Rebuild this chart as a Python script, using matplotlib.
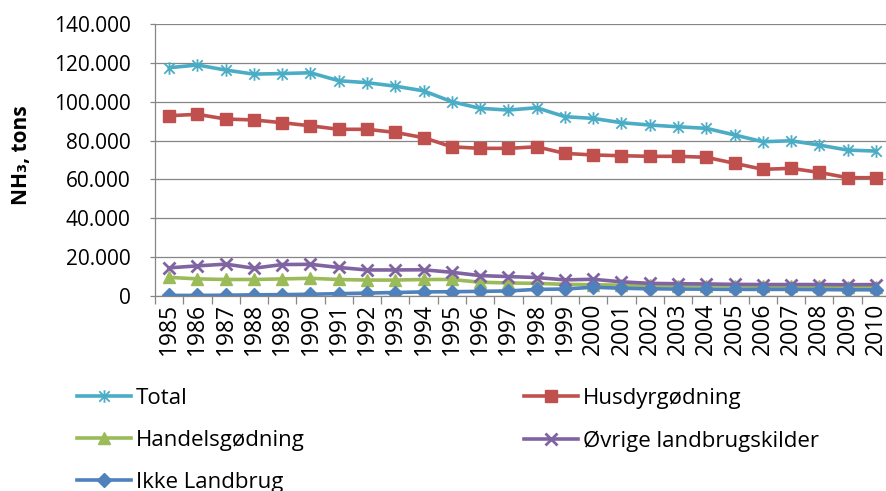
import matplotlib
matplotlib.use("Agg")
import matplotlib.pyplot as plt
from matplotlib.path import Path
from matplotlib.ticker import FixedLocator, FuncFormatter
import numpy as np

plt.rcParams["font.family"] = ["Open Sans", "DejaVu Sans"]

# NH3 emissions by source, tons per year
years = list(range(1985, 2011))
total = [117500, 118900, 116300, 114200, 114500, 114900, 110800, 109800, 108000, 105600,
         100000, 96600, 95700, 96900, 92300, 91400, 89200, 88000, 87100, 86300,
         82900, 79400, 79900, 77700, 75100, 74600]
husdyr = [92800, 93500, 91100, 90600, 89200, 87600, 85800, 85800, 84200, 81500,
          76800, 76000, 76000, 76800, 73400, 72600, 72200, 71900, 71900, 71400,
          68300, 65200, 65700, 63600, 60900, 60900]
handels = [9600, 8800, 8500, 8500, 8800, 9100, 8500, 8200, 8200, 8500,
           8500, 7100, 6700, 6500, 6000, 5800, 5600, 5500, 5400, 5300,
           5200, 5000, 5000, 4900, 4800, 4800]
ovrige = [14500, 15500, 16400, 14300, 16200, 16300, 14700, 13400, 13400, 13500,
          12200, 10500, 10000, 9500, 8300, 8600, 7300, 6500, 6300, 6200,
          6000, 5900, 5900, 5900, 5800, 5900]
ikke = [300, 300, 400, 600, 700, 900, 1200, 1500, 1800, 2100,
        2200, 2400, 2600, 3400, 3600, 4500, 4000, 3700, 3600, 3500,
        3400, 3400, 3400, 3300, 3200, 3200]

labels = ["Total", "Husdyrgødning", "Handelsgødning", "Øvrige landbrugskilder", "Ikke Landbrug"]
colors = ["#4BACC6", "#C0504D", "#9BBB59", "#8064A2", "#4F81BD"]

# Excel-style star: an x with a vertical bar through it
star = Path([(-1, -1), (1, 1), (-1, 1), (1, -1), (0, -1.2), (0, 1.2)],
            [Path.MOVETO, Path.LINETO, Path.MOVETO, Path.LINETO, Path.MOVETO, Path.LINETO])

fig = plt.figure(figsize=(8.87, 4.91), dpi=100)
ax = fig.add_axes([155 / 887, 1 - 296 / 491, 735 / 887, 272 / 491])

x = np.arange(len(years))
series = [total, husdyr, handels, ovrige, ikke]
styles = [
    dict(marker=star, markersize=9, markeredgewidth=1.3),
    dict(marker="s", markersize=8.5),
    dict(marker="^", markersize=8.5),
    dict(marker="x", markersize=8, markeredgewidth=2),
    dict(marker="D", markersize=7.5),
]
handles = []
for vals, lab, col, st in zip(series, labels, colors, styles):
    h, = ax.plot(x, vals, color=col, lw=2.6, label=lab, markerfacecolor=col,
                 markeredgecolor=col, **st)
    handles.append(h)

ax.set_xlim(-0.5, len(years) - 0.5)
ax.set_ylim(0, 140000)
ax.set_yticks(np.arange(0, 140001, 20000))
ax.yaxis.set_major_formatter(FuncFormatter(lambda v, p: f"{v:,.0f}".replace(",", ".")))
ax.grid(axis="y", color="#868686", lw=0.9)
ax.set_axisbelow(True)

ax.set_xticks(x)
ax.set_xticklabels([str(y) for y in years], rotation=90)
ax.xaxis.set_minor_locator(FixedLocator(np.arange(-0.5, len(years), 1.0)))
ax.tick_params(axis="x", which="major", length=0, pad=5, labelsize=16.5)
ax.tick_params(axis="x", which="minor", length=5.5, color="#868686", width=0.9)
ax.tick_params(axis="y", length=3.6, color="#868686", width=0.9, pad=14, labelsize=15)

for s in ["top", "right"]:
    ax.spines[s].set_visible(False)
for s in ["left", "bottom"]:
    ax.spines[s].set_color("#868686")
    ax.spines[s].set_linewidth(0.9)

fig.text(22 / 887, 1 - 155 / 491, "NH₃, tons", rotation=90, ha="center", va="center",
         fontsize=15, fontweight="bold")

order = [0, 2, 4, 1, 3]
fig.legend([handles[i] for i in order], [labels[i] for i in order],
           loc="upper left", bbox_to_anchor=(77 / 887, 1 - 388 / 491), ncol=2,
           frameon=False, fontsize=16, handlelength=2.45, handletextpad=0.2,
           borderpad=0, borderaxespad=0, labelspacing=0.95, columnspacing=9.85)

fig.savefig("out.png", dpi=100)
